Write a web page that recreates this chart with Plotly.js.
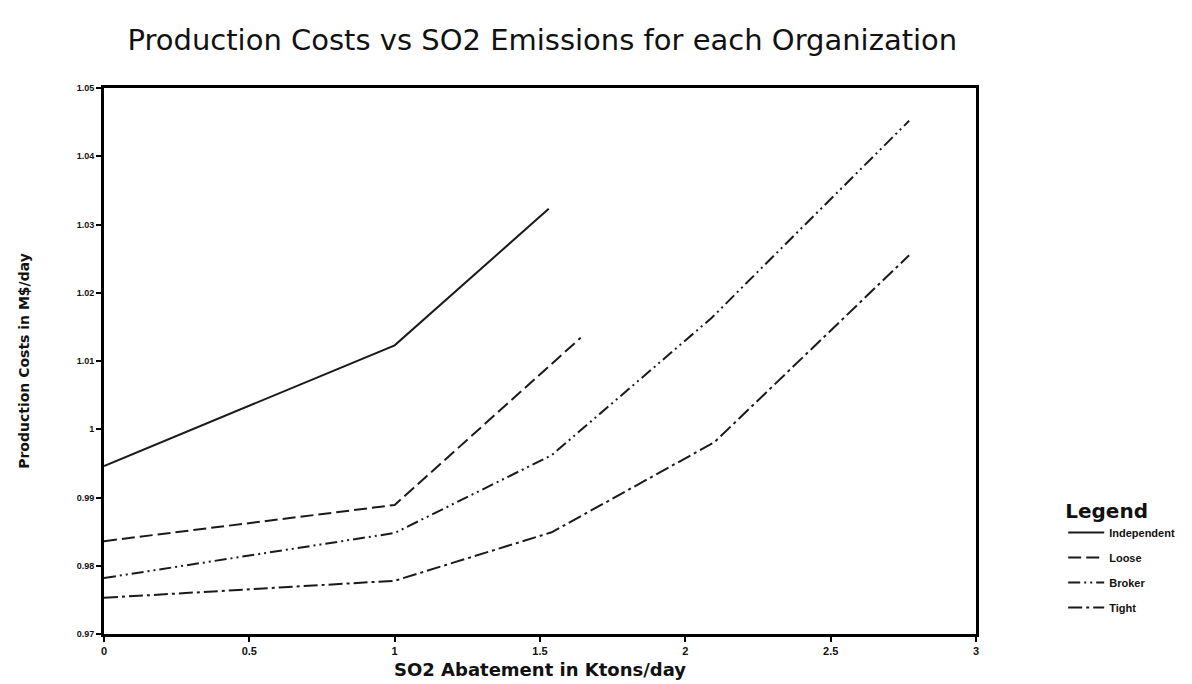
<!DOCTYPE html>
<html>
<head>
<meta charset="utf-8">
<script src="https://cdn.plot.ly/plotly-3.0.1.min.js"></script>
<style>html,body{margin:0;padding:0;background:#fff;}#chart{width:1192px;height:684px;}</style>
</head>
<body>
<div id="chart"></div>
<script>
// Data
const seriesNames = ["Independent", "Loose", "Broker", "Tight"];
const independentX = [0, 1, 1.53];
const independentY = [0.9946, 1.0123, 1.0323];
const looseX = [0, 1, 1.64];
const looseY = [0.9836, 0.9889, 1.0134];
const brokerX = [0, 1, 1.54, 2.09, 2.77];
const brokerY = [0.9782, 0.9848, 0.9962, 1.0163, 1.0452];
const tightX = [0, 1, 1.54, 2.1, 2.77];
const tightY = [0.9753, 0.9778, 0.9849, 0.9981, 1.0255];

const xTickVals = [0, 0.5, 1, 1.5, 2, 2.5, 3];
const xTickText = ["0", "0.5", "1", "1.5", "2", "2.5", "3"];
const yTickVals = [0.97, 0.98, 0.99, 1, 1.01, 1.02, 1.03, 1.04, 1.05];
const yTickText = ["0.97", "0.98", "0.99", "1", "1.01", "1.02", "1.03", "1.04", "1.05"];

const lineColor = "#1a1a1a";
const dashes = ["solid", "13px,5px", "12px,4px,2px,4px,2px,4px", "14px,4px,3px,4px"];
const xs = [independentX, looseX, brokerX, tightX];
const ys = [independentY, looseY, brokerY, tightY];

const traces = seriesNames.map((name, i) => ({
  x: xs[i], y: ys[i], name: name, type: "scatter", mode: "lines",
  legendgroup: name,
  line: {color: lineColor, width: 2, dash: dashes[i]}
}));

const layout = {
  width: 1192, height: 684,
  paper_bgcolor: "#ffffff", plot_bgcolor: "#ffffff",
  margin: {l: 104, r: 213, t: 88, b: 50},
  font: {family: "DejaVu Sans, sans-serif", color: "#111"},
  title: {
    text: "Production Costs vs SO2 Emissions for each Organization",
    font: {family: "DejaVu Sans, sans-serif", size: 29, color: "#111"},
    x: 0.455, xanchor: "center", y: 0.942, yanchor: "middle"
  },
  xaxis: {
    range: [0, 3], tickvals: xTickVals, ticktext: xTickText,
    showline: true, linecolor: "#000", linewidth: 3, mirror: true,
    ticks: "outside", ticklen: 5, tickwidth: 2, tickcolor: "#000",
    showgrid: false, zeroline: false,
    tickfont: {family: "Liberation Sans, sans-serif", size: 11, weight: "bold", color: "#111"},
    title: {text: "SO2 Abatement in Ktons/day", standoff: 8,
      font: {family: "DejaVu Sans, sans-serif", size: 18, weight: "bold", color: "#111"}}
  },
  yaxis: {
    range: [0.97, 1.05], tickvals: yTickVals, ticktext: yTickText,
    showline: true, linecolor: "#000", linewidth: 3, mirror: true,
    ticks: "outside", ticklen: 5, tickwidth: 2, tickcolor: "#000",
    showgrid: false, zeroline: false,
    tickfont: {family: "Liberation Sans, sans-serif", size: 9, weight: "bold", color: "#111"},
    title: {text: "Production Costs in M$/day", standoff: 44,
      font: {family: "DejaVu Sans, sans-serif", size: 14, weight: "bold", color: "#111"}}
  },
  showlegend: true,
  legend: {
    x: 1.1, xanchor: "left", y: 0.26, yanchor: "top",
    title: {text: "Legend", font: {family: "DejaVu Sans, sans-serif", size: 20, color: "#111"}},
    font: {family: "Liberation Sans, sans-serif", size: 11, weight: "bold", color: "#111"},
    bgcolor: "rgba(0,0,0,0)", borderwidth: 0, tracegroupgap: 6, itemwidth: 36
  }
};

Plotly.newPlot("chart", traces, layout, {displayModeBar: false, staticPlot: true});
</script>
</body>
</html>
